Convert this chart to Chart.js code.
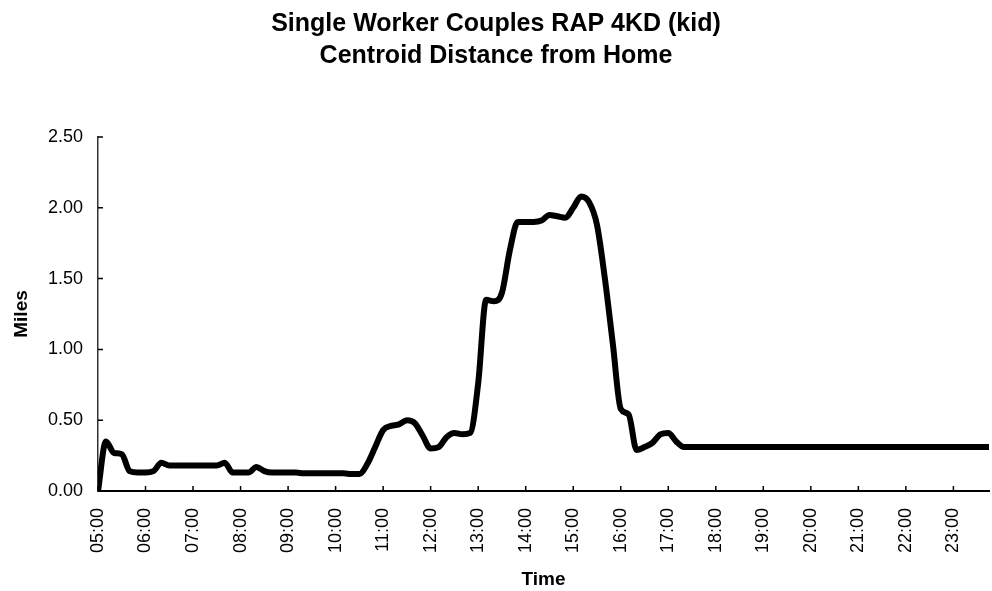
<!DOCTYPE html>
<html>
<head>
<meta charset="utf-8">
<title>Centroid Distance from Home</title>
<script src="https://cdn.jsdelivr.net/npm/chart.js@4.4.0/dist/chart.umd.min.js"></script>
<style>
  body { margin: 0; background: #fff; }
  #wrap { width: 992px; height: 591px; }
</style>
</head>
<body>
<div id="wrap"><canvas id="myChart" width="992" height="591"></canvas></div>
<script>
// time of day, every 10 minutes from 05:00
let times = []
for (let h = 5; h < 24; h++) {
    for (let m = 0; m < 60; m += 10) {
        times.push(String(h).padStart(2, '0') + ':' + String(m).padStart(2, '0'))
    }
}

// centroid distance from home (miles), one row per hour
let miles = [
    0.00, 0.35, 0.27, 0.26, 0.14, 0.13,   // 05
    0.13, 0.14, 0.20, 0.18, 0.18, 0.18,   // 06
    0.18, 0.18, 0.18, 0.18, 0.20, 0.13,   // 07
    0.13, 0.13, 0.17, 0.14, 0.13, 0.13,   // 08
    0.13, 0.13, 0.125, 0.125, 0.125, 0.125, // 09
    0.125, 0.125, 0.12, 0.12, 0.19, 0.31, // 10
    0.43, 0.46, 0.47, 0.50, 0.48, 0.39,   // 11
    0.30, 0.31, 0.38, 0.41, 0.40, 0.41,   // 12
    0.76, 1.35, 1.34, 1.40, 1.70, 1.90,   // 13
    1.90, 1.90, 1.91, 1.95, 1.94, 1.93,   // 14
    2.00, 2.08, 2.04, 1.88, 1.50, 1.04,   // 15
    0.58, 0.54, 0.29, 0.31, 0.34, 0.40,   // 16
    0.41, 0.35, 0.31, 0.31, 0.31, 0.31,   // 17
    0.31, 0.31, 0.31, 0.31, 0.31, 0.31,   // 18
    0.31, 0.31, 0.31, 0.31, 0.31, 0.31,   // 19
    0.31, 0.31, 0.31, 0.31, 0.31, 0.31,   // 20
    0.31, 0.31, 0.31, 0.31, 0.31, 0.31,   // 21
    0.31, 0.31, 0.31, 0.31, 0.31, 0.31,   // 22
    0.31, 0.31, 0.31, 0.31, 0.31, 0.31    // 23
]

let titleLines = ['Single Worker Couples RAP 4KD (kid)', 'Centroid Distance from Home']
let yTicks = [0, 0.5, 1, 1.5, 2, 2.5]

// "HH:MM" -> hours as a number for the linear x scale
function toHours(t) {
    let p = t.split(':')
    return Number(p[0]) + Number(p[1]) / 60
}

let points = []
for (let i = 0; i < times.length; i++) {
    points.push({ x: toHours(times[i]), y: miles[i] })
}

// small tick marks drawn on the inside of both axes
const insideTicks = {
    id: 'insideTicks',
    afterDraw(chart) {
        const ctx = chart.ctx
        const xs = chart.scales.x
        const ys = chart.scales.y
        ctx.save()
        ctx.strokeStyle = '#000'
        ctx.lineWidth = 1.5
        ctx.beginPath()
        xs.ticks.forEach(t => {
            let px = xs.getPixelForValue(t.value)
            ctx.moveTo(px, xs.top)
            ctx.lineTo(px, xs.top - 5)
        })
        ys.ticks.forEach(t => {
            let py = ys.getPixelForValue(t.value)
            ctx.moveTo(ys.right, py)
            ctx.lineTo(ys.right + 5, py)
        })
        ctx.stroke()
        ctx.restore()
    }
}

Chart.defaults.font.family = '"Liberation Sans", Arial, sans-serif'
Chart.defaults.color = '#000'

var ctx = document.getElementById('myChart')
var myLineChart = new Chart(ctx, {
    type: 'line',
    data: {
        datasets: [{
            label: 'Miles',
            data: points,
            borderColor: '#000',
            borderWidth: 6,
            borderCapStyle: 'round',
            borderJoinStyle: 'round',
            pointRadius: 0,
            cubicInterpolationMode: 'monotone',
            fill: false
        }]
    },
    options: {
        responsive: false,
        animation: false,
        devicePixelRatio: 1,
        layout: { padding: 0 },
        plugins: {
            legend: { display: false },
            tooltip: { enabled: false },
            title: {
                display: true,
                text: titleLines,
                font: { size: 25, weight: 'bold', lineHeight: 1.28 },
                color: '#000',
                padding: { top: 8, bottom: 65 }
            }
        },
        scales: {
            x: {
                type: 'linear',
                min: 5,
                max: 23.75,
                afterFit: s => { s.height = 100 },
                grid: { display: true, drawOnChartArea: false, drawTicks: false },
                border: { display: true, color: '#000', width: 2 },
                ticks: {
                    stepSize: 1,
                    includeBounds: false,
                    autoSkip: false,
                    minRotation: 90,
                    maxRotation: 90,
                    padding: 17,
                    font: { size: 18 },
                    callback: v => String(v).padStart(2, '0') + ':00'
                },
                title: {
                    display: true,
                    text: 'Time',
                    font: { size: 19, weight: 'bold' },
                    padding: { top: 0, bottom: 0 }
                }
            },
            y: {
                min: yTicks[0],
                max: yTicks[yTicks.length - 1],
                afterFit: s => { s.width = 98 },
                afterBuildTicks: s => { s.ticks = yTicks.map(v => ({ value: v })) },
                grid: { display: true, drawOnChartArea: false, drawTicks: false },
                border: { display: true, color: '#333', width: 1.5, dash: [5, 3] },
                ticks: {
                    padding: 15,
                    font: { size: 18 },
                    callback: v => v.toFixed(2)
                },
                title: {
                    display: true,
                    text: 'Miles',
                    font: { size: 19, weight: 'bold' },
                    padding: { top: 10, bottom: 0 }
                }
            }
        }
    },
    plugins: [insideTicks]
})
</script>
</body>
</html>
